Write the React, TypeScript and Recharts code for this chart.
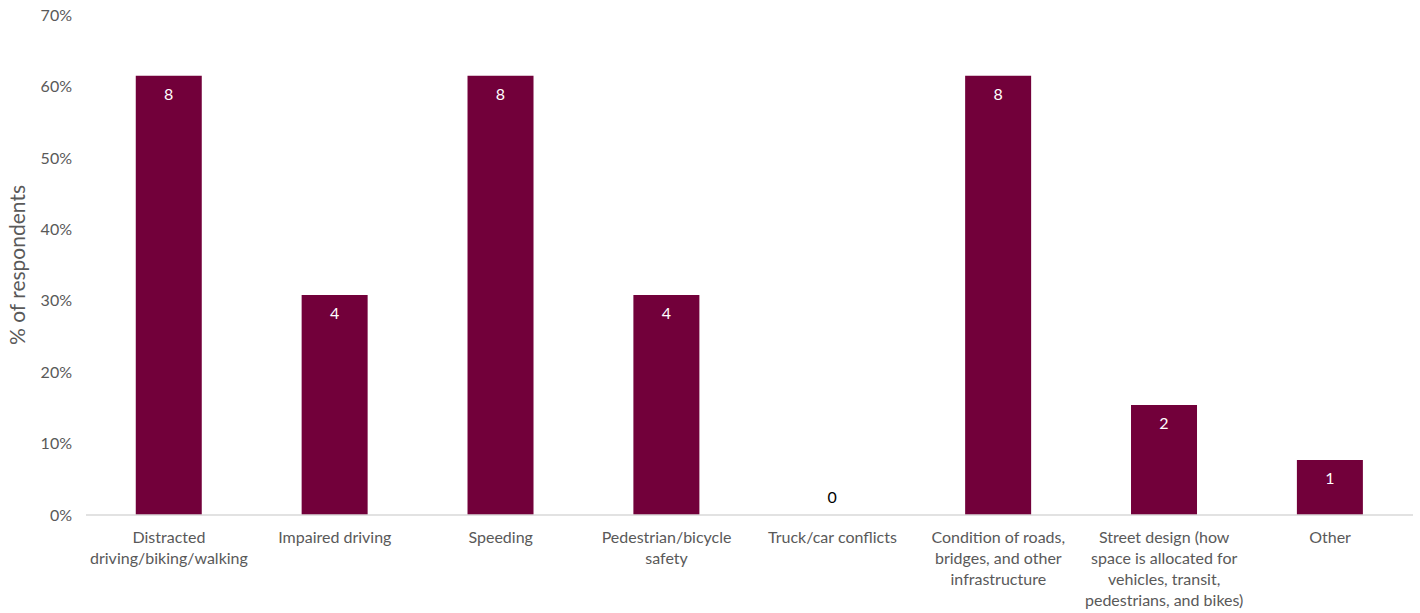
import React from "react";
import { Bar, BarChart, LabelList, Rectangle, XAxis, YAxis } from "recharts";

// survey results, 13 respondents
const categories = [
  "Distracted driving/biking/walking",
  "Impaired driving",
  "Speeding",
  "Pedestrian/bicycle safety",
  "Truck/car conflicts",
  "Condition of roads, bridges, and other infrastructure",
  "Street design (how space is allocated for vehicles, transit, pedestrians, and bikes)",
  "Other",
];
const categoryLines = [
  ["Distracted", "driving/biking/walking"],
  ["Impaired driving"],
  ["Speeding"],
  ["Pedestrian/bicycle", "safety"],
  ["Truck/car conflicts"],
  ["Condition of roads,", "bridges, and other", "infrastructure"],
  ["Street design (how", "space is allocated for", "vehicles, transit,", "pedestrians, and bikes)"],
  ["Other"],
];
const counts = [8, 4, 8, 4, 0, 8, 2, 1];
const percents = [61.5, 30.8, 61.5, 30.8, 0, 61.5, 15.4, 7.7];
const yTicks = [0, 10, 20, 30, 40, 50, 60, 70];

const data = categories.map((name, i) => ({ name, idx: i, count: counts[i], pct: percents[i] }));

const FONT = "Lato, 'Open Sans', sans-serif";
const GREY = "#595959";
const BAR = "#72003a";

function CategoryTick(props: any) {
  const { x, y, payload } = props;
  const lines = categoryLines[payload.index] ?? [String(payload.value)];
  return (
    <text x={x} y={y + 20} textAnchor="middle" fill={GREY} fontSize={16} fontFamily={FONT}>
      {lines.map((l: string, i: number) => (
        <tspan key={i} x={x} dy={i === 0 ? 0 : 21}>
          {l}
        </tspan>
      ))}
    </text>
  );
}

function BarShape(props: any) {
  if (props.payload && props.payload.pct === 0) return <g />;
  return <Rectangle {...props} />;
}

function CountLabel(props: any) {
  const { x, y, width, height, value } = props;
  const cx = x + width / 2;
  if (value === 0) {
    return (
      <text x={cx} y={y + height - 12} textAnchor="middle" fill="#000" fontSize={16} fontFamily={FONT}>
        {value}
      </text>
    );
  }
  return (
    <text x={cx} y={y + 24} textAnchor="middle" fill="#fff" fontSize={16} fontFamily={FONT}>
      {value}
    </text>
  );
}

function AxisTitle(props: any) {
  const vb = props.viewBox || {};
  const cy = vb.y + vb.height / 2;
  return (
    <text
      x={25}
      y={cy}
      transform={`rotate(-90, 25, ${cy})`}
      textAnchor="middle"
      fill={GREY}
      fontSize={21}
      fontFamily={FONT}
    >
      % of respondents
    </text>
  );
}

export default function App() {
  return (
    <div style={{ position: "absolute", left: 0, top: 0, background: "#fff" }}>
      <BarChart
        width={1420}
        height={613}
        data={data}
        margin={{ top: 15, right: 7, bottom: 0, left: 0 }}
        barCategoryGap="30%"
      >
        <XAxis
          dataKey="name"
          interval={0}
          height={98}
          tickLine={false}
          axisLine={{ stroke: "#d9d9d9", strokeWidth: 1.5 }}
          tick={<CategoryTick />}
        />
        <YAxis
          width={86}
          domain={[0, 70]}
          ticks={yTicks}
          interval={0}
          axisLine={false}
          tickLine={false}
          tickFormatter={(v: number) => `${v}%`}
          tick={{ fill: GREY, fontSize: 16, fontFamily: FONT }}
          tickMargin={8}
          label={<AxisTitle />}
        />
        <Bar dataKey="pct" fill={BAR} minPointSize={1} shape={<BarShape />} isAnimationActive={false}>
          <LabelList dataKey="count" content={<CountLabel />} />
        </Bar>
      </BarChart>
    </div>
  );
}
